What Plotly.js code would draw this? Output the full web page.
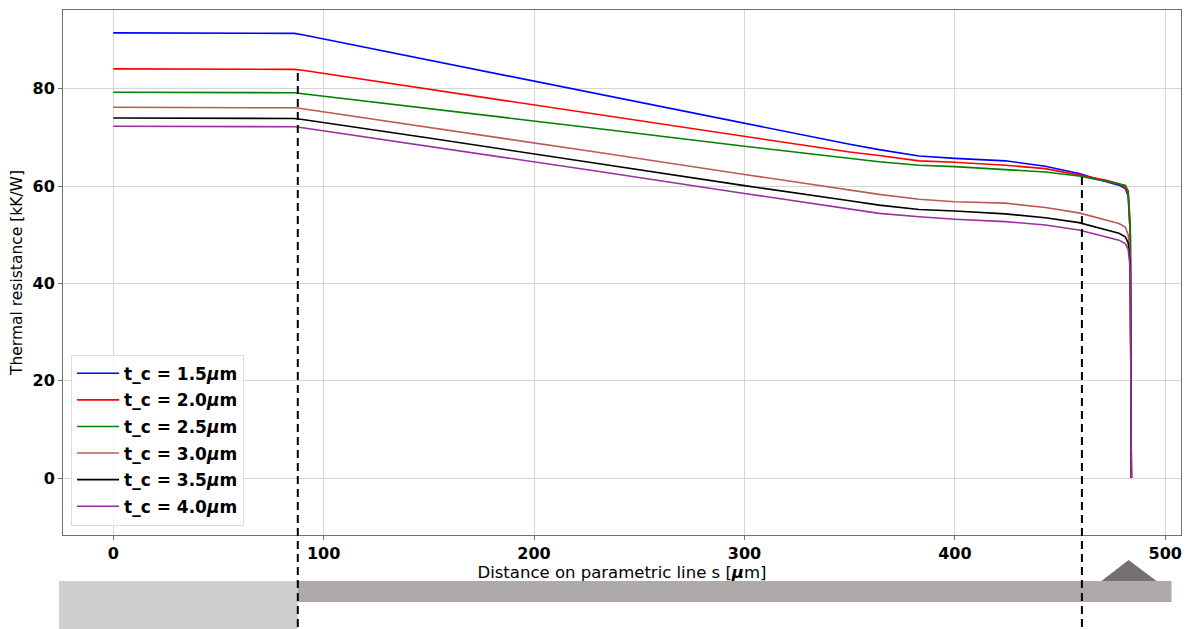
<!DOCTYPE html>
<html>
<head>
<meta charset="utf-8">
<script src="https://cdn.plot.ly/plotly-3.0.1.min.js"></script>
<style>
  html, body { margin: 0; padding: 0; background: #ffffff; }
  #chart { width: 1190px; height: 629px; }
</style>
</head>
<body>
<div id="chart"></div>
<script>
// Distance along the parametric line s [µm]
const s = [0, 82, 86, 90, 150, 231, 300, 350, 364, 383, 400, 424, 443, 459, 472, 478, 481, 482.4, 483.4, 483.9];

// Thermal resistance [kK/W] for each cap thickness t_c
const r15 = [91.5, 91.5, 91.4, 91.1, 85.9, 78.8, 72.9, 68.6, 67.5, 66.2, 65.7, 65.2, 64.1, 62.6, 60.9, 60.2, 59.5, 58.0, 50.0, 0];
const r20 = [84.1, 84.1, 84.0, 83.8, 79.9, 74.7, 70.3, 67.0, 66.3, 65.2, 64.9, 64.3, 63.6, 62.3, 61.2, 60.5, 59.8, 58.3, 50.0, 0];
const r25 = [79.3, 79.3, 79.2, 79.0, 76.0, 71.8, 68.2, 65.6, 65.0, 64.3, 64.0, 63.4, 62.9, 62.1, 60.9, 60.4, 60.2, 59.0, 52.0, 0];
const r30 = [76.2, 76.2, 76.1, 75.9, 72.1, 66.9, 62.4, 59.2, 58.3, 57.3, 56.8, 56.5, 55.6, 54.5, 53.1, 52.3, 51.6, 50.0, 45.0, 0];
const r35 = [74.0, 74.0, 73.9, 73.7, 69.9, 64.6, 60.1, 57.0, 56.1, 55.2, 54.9, 54.3, 53.5, 52.5, 51.0, 50.3, 49.6, 48.3, 44.0, 0];
const r40 = [72.3, 72.3, 72.2, 72.0, 68.2, 63.0, 58.5, 55.3, 54.4, 53.7, 53.2, 52.7, 52.0, 51.0, 49.6, 48.9, 48.2, 47.0, 43.0, 0];

const seriesNames = ['t_c = 1.5<i>μ</i>m', 't_c = 2.0<i>μ</i>m', 't_c = 2.5<i>μ</i>m',
                     't_c = 3.0<i>μ</i>m', 't_c = 3.5<i>μ</i>m', 't_c = 4.0<i>μ</i>m'];
const seriesValues = [r15, r20, r25, r30, r35, r40];
const seriesColors = ['#0000ff', '#ff0000', '#008000', '#bc5a55', '#000000', '#9a2fa0'];

// Region boundaries along s [µm] (dashed markers)
const boundaries = [87.7, 460.4];
const boundaryTops = [0.881, 0.682];

const xTicks = [0, 100, 200, 300, 400, 500];
const yTicks = [0, 20, 40, 60, 80];

const traces = seriesValues.map((vals, i) => ({
  x: s,
  y: vals,
  type: 'scatter',
  mode: 'lines',
  name: seriesNames[i],
  legendgroup: 'g' + i,
  line: { color: seriesColors[i], width: 1.6 }
}));

const shapes = [];

// Cross-section sketch below the axis
shapes.push({ type: 'rect', xref: 'paper', yref: 'paper', x0: -0.0036, x1: 0.2101, y0: -0.19, y1: -0.0876,
              fillcolor: '#d0cfd0', line: { width: 0 }, layer: 'above' });
shapes.push({ type: 'rect', xref: 'paper', yref: 'paper', x0: 0.2101, x1: 0.9915, y0: -0.1276, y1: -0.0876,
              fillcolor: '#adaaa9', line: { width: 0 }, layer: 'above' });
shapes.push({ type: 'path', xref: 'paper', yref: 'paper', path: 'M 0.9289 -0.0876 L 0.9531 -0.0476 L 0.9781 -0.0876 Z',
              fillcolor: '#757170', line: { width: 0 }, layer: 'above' });

boundaries.forEach((b, i) => {
  shapes.push({ type: 'line', xref: 'x', yref: 'paper', x0: b, x1: b, y0: -0.2, y1: boundaryTops[i],
                line: { color: '#000000', width: 2, dash: '8px,5px' }, layer: 'above' });
});

const layout = {
  width: 1190,
  height: 629,
  margin: { l: 63, r: 8.5, t: 10, b: 94 },
  paper_bgcolor: '#ffffff',
  plot_bgcolor: '#ffffff',
  font: { family: 'DejaVu Sans', color: '#000000' },
  showlegend: true,
  legend: {
    x: 0.0072, y: 0.0177, xanchor: 'left', yanchor: 'bottom',
    bgcolor: 'rgba(255,255,255,0.8)', bordercolor: '#dddddd', borderwidth: 1,
    itemwidth: 42, tracegroupgap: 1.5,
    font: { family: 'DejaVu Sans', size: 17, weight: 'bold', color: '#000000' }
  },
  xaxis: {
    range: [-23.9, 507.5],
    tickvals: xTicks,
    ticktext: xTicks.map(String),
    tickfont: { family: 'DejaVu Sans', size: 16, weight: 'bold' },
    showgrid: true, gridcolor: '#d6d6d6', gridwidth: 1,
    zeroline: false,
    showline: true, mirror: true, linecolor: '#707070', linewidth: 1,
    ticks: 'outside', ticklen: 4, tickcolor: '#707070',
    title: { text: 'Distance on parametric line s [<b><i>μ</i></b>m]', font: { family: 'DejaVu Sans', size: 16.5 }, standoff: 4 }
  },
  yaxis: {
    range: [-11.7, 96.2],
    tickvals: yTicks,
    ticktext: yTicks.map(String),
    tickfont: { family: 'DejaVu Sans', size: 16, weight: 'bold' },
    showgrid: true, gridcolor: '#d6d6d6', gridwidth: 1,
    zeroline: false,
    showline: true, mirror: true, linecolor: '#707070', linewidth: 1,
    ticks: 'outside', ticklen: 4, tickcolor: '#707070',
    title: { text: 'Thermal resistance [kK/W]', font: { family: 'DejaVu Sans', size: 15.5 }, standoff: 6 }
  },
  shapes: shapes
};

Plotly.newPlot('chart', traces, layout, { displayModeBar: false, staticPlot: true });
</script>
</body>
</html>
